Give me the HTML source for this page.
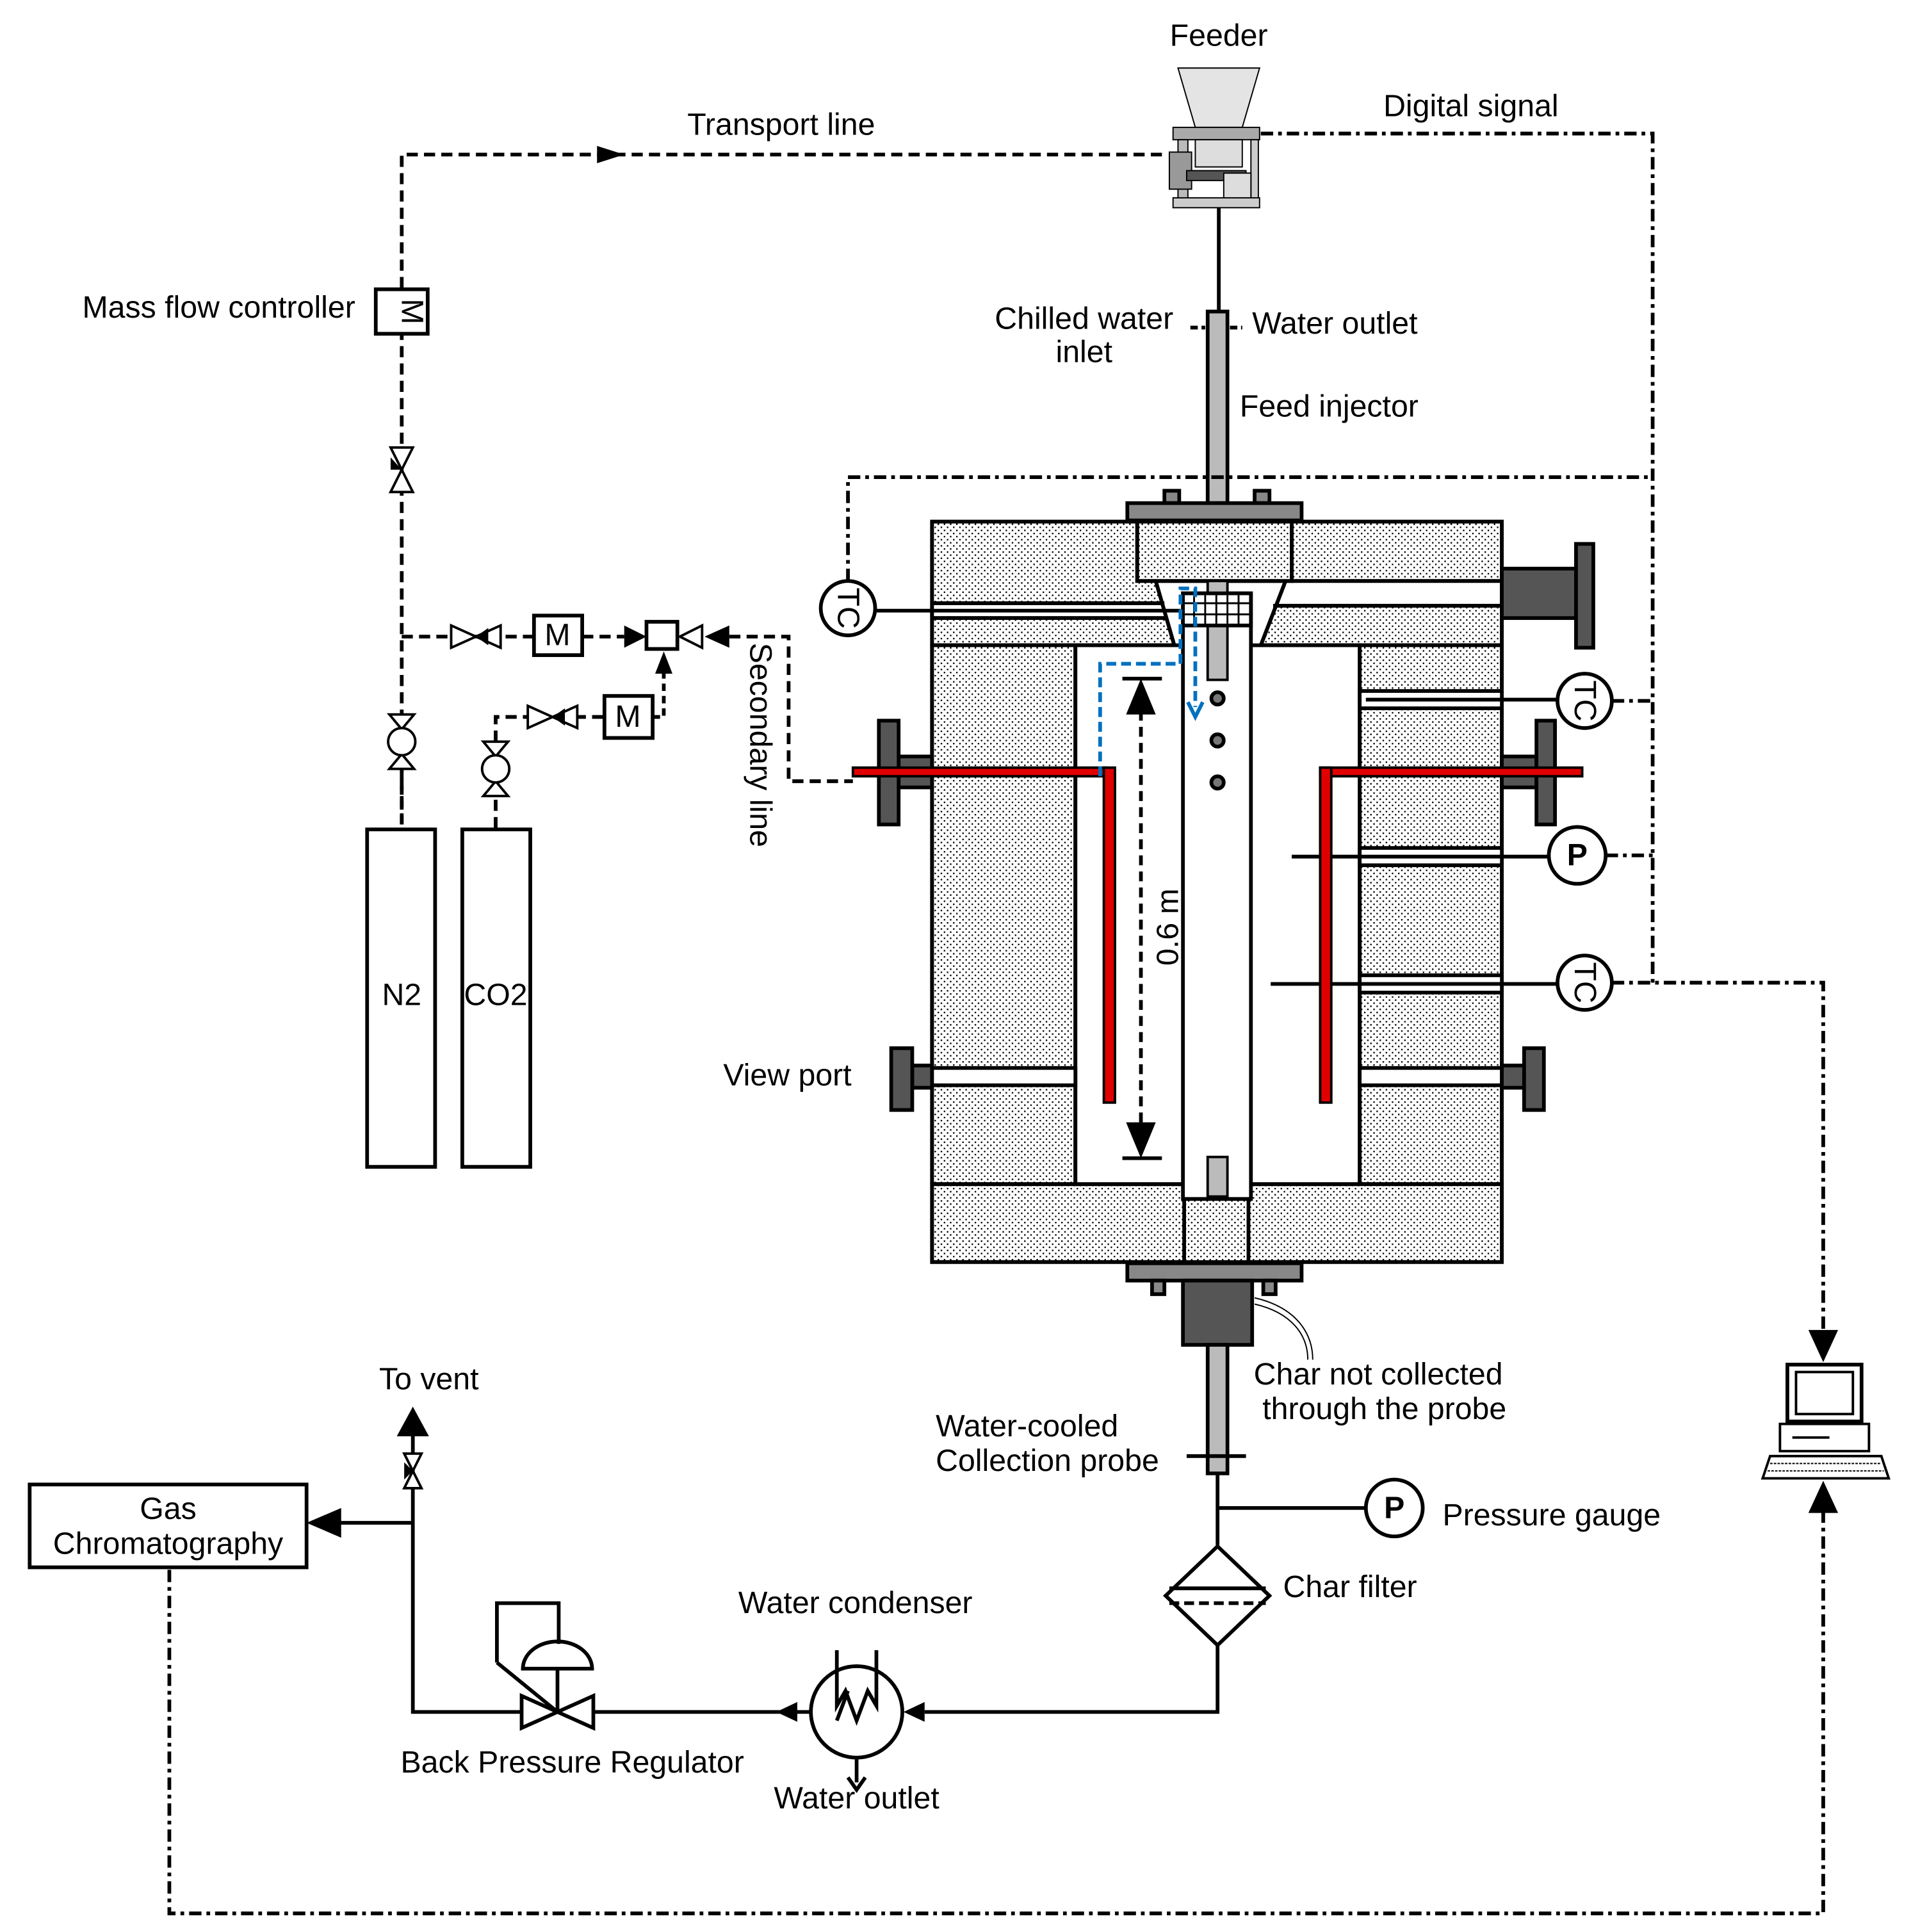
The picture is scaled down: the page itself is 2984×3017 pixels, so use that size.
<!DOCTYPE html>
<html><head><meta charset="utf-8"><style>
html,body{margin:0;padding:0;background:#fff;}
svg{display:block;}
text{font-family:"Liberation Sans",sans-serif;font-size:25px;fill:#000;}
</style></head><body>
<svg width="2984" height="3017" viewBox="0 0 1546 1563" xmlns="http://www.w3.org/2000/svg">
<defs>
<pattern id="dots" width="5" height="5" patternUnits="userSpaceOnUse">
<rect width="5" height="5" fill="#fff"/><rect x="1" y="1" width="1.2" height="1.2" fill="#000"/><rect x="3.5" y="3.5" width="1.2" height="1.2" fill="#000"/>
</pattern>
</defs>
<g fill="none" stroke="#000" stroke-width="3">

<!-- Feeder -->
<g stroke-width="1">
<polygon points="953,55 1019,55 1005,103 967,103" fill="#e4e4e4"/>
<rect x="949" y="103" width="70" height="10" fill="#aaa"/>
<rect x="967" y="113" width="38" height="22" fill="#ddd"/>
<rect x="953" y="113" width="8" height="50" fill="#bbb"/>
<rect x="946" y="123" width="18" height="30" fill="#999"/>
<rect x="1012" y="113" width="6" height="50" fill="#ccc"/>
<rect x="960" y="138" width="48" height="8" fill="#555"/>
<rect x="990" y="140" width="22" height="22" fill="#ddd"/>
<rect x="949" y="160" width="70" height="8" fill="#ccc"/>
</g>
<line x1="986" y1="168" x2="986" y2="252"/>
<rect x="977" y="252" width="16" height="155" fill="#bbb"/>
<line x1="963" y1="265" x2="975" y2="265" stroke-dasharray="6,3"/>
<line x1="995" y1="265" x2="1005" y2="265" stroke-dasharray="6,3"/>

<!-- transport line -->
<path d="M940,125 L325,125 L325,670" stroke-dasharray="9,5"/>
<path d="M483,118 L505,125 L483,132z" fill="#000" stroke="none"/>
<rect x="304" y="234" width="42" height="36" fill="#fff"/>
<path d="M316,362 L334,362 L325,380z M316,398 L334,398 L325,380z" fill="#fff" stroke-width="2"/>
<path d="M316,370 L325,380 L316,380z" fill="#000" stroke="none"/>
<path d="M325,515 L432,515" stroke-dasharray="9,5"/>
<path d="M365,506 L365,524 L385,515z M405,506 L405,524 L385,515z" fill="#fff" stroke-width="2"/>
<path d="M385,515 L395,508 L395,522z" fill="#000" stroke="none"/>
<rect x="432" y="498" width="39" height="32" fill="#fff"/>
<path d="M471,515 L505,515" stroke-dasharray="9,5"/>
<path d="M505,506 L523,515 L505,524z" fill="#000" stroke="none"/>
<rect x="523" y="503" width="25" height="22" fill="#fff"/>
<path d="M550,515 L568,506 L568,524z" fill="#fff" stroke-width="2"/>
<path d="M590,506 L570,515 L590,524z" fill="#000" stroke="none"/>
<path d="M590,515 L638,515 L638,632 L690,632" stroke-dasharray="9,5"/>
<path d="M401,670 L401,580 L489,580" stroke-dasharray="9,5"/>
<path d="M427,571 L427,589 L447,580z M467,571 L467,589 L447,580z" fill="#fff" stroke-width="2"/>
<path d="M447,580 L457,573 L457,587z" fill="#000" stroke="none"/>
<rect x="489" y="563" width="39" height="34" fill="#fff"/>
<path d="M528,580 L537,580 L537,545" stroke-dasharray="6,4"/>
<path d="M530,545 L537,527 L544,545z" fill="#000" stroke="none"/>
<g stroke-width="2">
<path d="M315,578 L335,578 L325,590z M315,622 L335,622 L325,610z" fill="#fff"/>
<circle cx="325" cy="600" r="11" fill="#fff"/>
<path d="M391,600 L411,600 L401,612z M391,644 L411,644 L401,632z" fill="#fff"/>
<circle cx="401" cy="622" r="11" fill="#fff"/>
</g>
<line x1="325" y1="624" x2="325" y2="670" stroke-dasharray="7,5"/>
<rect x="297" y="671" width="55" height="273" fill="#fff"/>
<rect x="374" y="671" width="55" height="273" fill="#fff"/>

<!-- Reactor -->
<rect x="754" y="422" width="461" height="100" fill="url(#dots)"/>
<rect x="754" y="522" width="116" height="436" fill="url(#dots)"/>
<rect x="1100" y="522" width="115" height="436" fill="url(#dots)"/>
<rect x="754" y="958" width="461" height="63" fill="url(#dots)"/>
<rect x="870" y="522" width="230" height="436" fill="#fff"/>
<rect x="754" y="488" width="190" height="12" fill="#fff"/>
<rect x="1028" y="470" width="187" height="20" fill="#fff"/>
<polygon points="935,470 1040,470 1020,522 950,522" fill="#fff"/>
<rect x="920" y="422" width="125" height="48" fill="url(#dots)"/>
<line x1="754" y1="522" x2="948" y2="522"/>
<line x1="1020" y1="522" x2="1215" y2="522"/>
<line x1="1045" y1="470" x2="1215" y2="470"/>
<line x1="1030" y1="490" x2="1215" y2="490"/>
<line x1="754" y1="488" x2="942" y2="488"/>
<line x1="754" y1="500" x2="944" y2="500"/>
<line x1="708" y1="494" x2="955" y2="494"/>
<line x1="935" y1="470" x2="950" y2="522"/>
<line x1="1040" y1="470" x2="1020" y2="522"/>
<line x1="870" y1="522" x2="870" y2="958"/>
<line x1="1100" y1="522" x2="1100" y2="958"/>
<line x1="754" y1="958" x2="1215" y2="958"/>
<rect x="754" y="422" width="461" height="599"/>
<rect x="920" y="422" width="125" height="48"/>
<rect x="1100" y="559" width="115" height="14" fill="#fff"/><line x1="1105" y1="566" x2="1260" y2="566"/>
<rect x="1100" y="686" width="115" height="14" fill="#fff"/><line x1="1045" y1="693" x2="1253" y2="693"/>
<rect x="1100" y="789" width="115" height="14" fill="#fff"/><line x1="1028" y1="796" x2="1260" y2="796"/>
<rect x="1100" y="864" width="115" height="14" fill="#fff"/>
<rect x="754" y="864" width="116" height="14" fill="#fff"/>
<rect x="957" y="480" width="55" height="490" fill="#fff"/>
<rect x="977" y="470" width="16" height="80" fill="#bbb" stroke-width="2"/>
<rect x="957" y="480" width="55" height="26" fill="#fff"/>
<g stroke-width="1.5">
<line x1="957" y1="488" x2="1012" y2="488"/><line x1="957" y1="497" x2="1012" y2="497"/>
<line x1="966" y1="480" x2="966" y2="506"/><line x1="975" y1="480" x2="975" y2="506"/><line x1="984" y1="480" x2="984" y2="506"/><line x1="993" y1="480" x2="993" y2="506"/><line x1="1002" y1="480" x2="1002" y2="506"/>
</g>
<circle cx="985" cy="565" r="5" fill="#777"/><circle cx="985" cy="599" r="5" fill="#777"/><circle cx="985" cy="633" r="5" fill="#777"/>
<rect x="977" y="936" width="16" height="32" fill="#bbb" stroke-width="2"/>
<rect x="958" y="970" width="52" height="51" fill="url(#dots)"/>
<rect x="942" y="397" width="12" height="10" fill="#888"/><rect x="1015" y="397" width="12" height="10" fill="#888"/>
<rect x="912" y="407" width="141" height="14" fill="#888"/>
<rect x="912" y="1022" width="141" height="14" fill="#888"/>
<rect x="932" y="1036" width="10" height="11" fill="#888"/><rect x="1022" y="1036" width="10" height="11" fill="#888"/>
<rect x="957" y="1036" width="56" height="52" fill="#555"/>
<rect x="977" y="1088" width="16" height="104" fill="#bbb"/>
<line x1="960" y1="1178" x2="1008" y2="1178"/>
<rect x="1215" y="460" width="60" height="40" fill="#555"/><rect x="1275" y="440" width="14" height="84" fill="#555"/>
<rect x="738" y="862" width="16" height="18" fill="#555"/><rect x="721" y="848" width="17" height="50" fill="#555"/>
<rect x="1215" y="862" width="18" height="18" fill="#555"/><rect x="1233" y="848" width="16" height="50" fill="#555"/>
<rect x="727" y="612" width="27" height="25" fill="#555"/><rect x="711" y="583" width="16" height="84" fill="#555"/>
<rect x="1215" y="612" width="28" height="25" fill="#555"/><rect x="1243" y="583" width="15" height="84" fill="#555"/>
<g fill="#e00000" stroke-width="2">
<rect x="690" y="621" width="205" height="7"/><rect x="893" y="621" width="9" height="271"/>
<rect x="1068" y="621" width="212" height="7"/><rect x="1068" y="621" width="9" height="271"/>
</g>
<line x1="908" y1="549" x2="940" y2="549"/><line x1="908" y1="937" x2="940" y2="937"/>
<line x1="923" y1="575" x2="923" y2="910" stroke-dasharray="8,5"/>
<path d="M911,578 L923,549 L935,578z M911,908 L923,937 L935,908z" fill="#000" stroke="none"/>
<path d="M890,628 L890,537 L955,537 L955,476 L967,476 L967,572" stroke="#0070c0" stroke-dasharray="8,4"/>
<path d="M961,568 L967,580 L973,568" stroke="#0070c0"/>

<g stroke-dasharray="10,4,3,4">
<path d="M1020,108 L1337,108 L1337,795"/>
<path d="M686,470 L686,386 L1337,386"/>
<path d="M1304,567 L1337,567"/>
<path d="M1299,692 L1337,692"/>
<path d="M1304,795 L1475,795 L1475,1078"/>
<path d="M1475,1222 L1475,1548 L137,1548 L137,1268"/>
</g>
<path d="M1463,1076 L1475,1102 L1487,1076z M1463,1224 L1475,1198 L1487,1224z" fill="#000" stroke="none"/>
<circle cx="686" cy="492" r="22" fill="#fff"/>
<circle cx="1282" cy="567" r="22" fill="#fff"/>
<circle cx="1276" cy="692" r="23" fill="#fff"/>
<circle cx="1282" cy="795" r="22" fill="#fff"/>
<rect x="1446" y="1104" width="60" height="46" fill="#fff"/>
<rect x="1453" y="1110" width="46" height="34" stroke-width="2"/>
<rect x="1440" y="1152" width="72" height="22" fill="#fff" stroke-width="2"/>
<line x1="1450" y1="1163" x2="1480" y2="1163" stroke-width="2"/>
<polygon points="1432,1178 1522,1178 1528,1196 1426,1196" fill="#fff" stroke-width="2"/>
<line x1="1432" y1="1184" x2="1522" y2="1184" stroke-width="1" stroke-dasharray="2,1"/>
<line x1="1430" y1="1190" x2="1524" y2="1190" stroke-width="1" stroke-dasharray="2,1"/>

<path d="M985,1192 L985,1250"/>
<line x1="985" y1="1220" x2="1105" y2="1220"/>
<circle cx="1128" cy="1220" r="23" fill="#fff"/>
<polygon points="985,1251 1027,1291 985,1331 943,1291" fill="#fff"/>
<line x1="946" y1="1285" x2="1024" y2="1285"/><line x1="946" y1="1297" x2="1024" y2="1297" stroke-dasharray="8,4"/>
<path d="M985,1331 L985,1385 L748,1385"/>
<path d="M748,1377 L731,1385 L748,1393z" fill="#000" stroke="none"/>
<circle cx="693" cy="1385" r="37" fill="#fff"/>
<path d="M677,1335 L677,1380 L684,1368 L693,1392 L702,1368 L709,1380 L709,1335"/>
<path d="M677,1392 L686,1368" />
<line x1="693" y1="1422" x2="693" y2="1442"/>
<path d="M686,1438 L693,1448 L700,1438" />
<path d="M656,1385 L480,1385"/>
<path d="M645,1377 L628,1385 L645,1393z" fill="#000" stroke="none"/>
<path d="M422,1372 L451,1385 L422,1398z M480,1372 L451,1385 L480,1398z" fill="#fff"/>
<line x1="451" y1="1385" x2="451" y2="1350"/>
<path d="M423,1350 A28,22 0 0 1 479,1350 Z" fill="#fff"/>
<path d="M402,1345 L402,1297 L452,1297 L452,1330"/>
<line x1="402" y1="1345" x2="451" y2="1385"/>
<path d="M422,1385 L334,1385 L334,1160"/>
<path d="M321,1162 L334,1138 L347,1162z" fill="#000" stroke="none"/>
<path d="M327,1176 L341,1176 L334,1190z M327,1204 L341,1204 L334,1190z" fill="#fff" stroke-width="2"/>
<path d="M334,1190 L327,1183 L327,1197z" fill="#000" stroke="none"/>
<line x1="334" y1="1232" x2="270" y2="1232"/>
<path d="M276,1220 L248,1232 L276,1244z" fill="#000" stroke="none"/>
<rect x="24" y="1201" width="224" height="67" fill="#fff"/>
<path d="M1015,1050 C1050,1058 1062,1080 1062,1100" stroke-width="1"/>
<path d="M1015,1055 C1045,1062 1058,1080 1058,1100" stroke-width="1"/>
</g>

<text x="986" y="37" text-anchor="middle">Feeder</text>
<text x="632" y="109" text-anchor="middle">Transport line</text>
<text x="1190" y="94" text-anchor="middle">Digital signal</text>
<text x="177" y="257" text-anchor="middle">Mass flow controller</text>
<text x="877" y="266" text-anchor="middle">Chilled water</text>
<text x="877" y="293" text-anchor="middle">inlet</text>
<text x="1013" y="270">Water outlet</text>
<text x="1003" y="337">Feed injector</text>
<text x="325" y="252" text-anchor="middle" transform="rotate(90 325 252)" font-size="21">M</text>
<text x="451" y="522" text-anchor="middle" font-size="21">M</text>
<text x="508" y="588" text-anchor="middle" font-size="21">M</text>
<text x="607" y="520" transform="rotate(90 607 520)" font-size="24">Secondary line</text>
<text x="325" y="813" text-anchor="middle" font-size="20">N2</text>
<text x="401" y="813" text-anchor="middle" font-size="20">CO2</text>
<text x="678" y="492" transform="rotate(90 678 492)" text-anchor="middle" font-size="23">TC</text>
<text x="1274" y="567" transform="rotate(90 1274 567)" text-anchor="middle" font-size="23">TC</text>
<text x="1274" y="795" transform="rotate(90 1274 795)" text-anchor="middle" font-size="23">TC</text>
<text x="1276" y="700" text-anchor="middle" font-weight="bold" font-size="22">P</text>
<text x="1128" y="1228" text-anchor="middle" font-weight="bold" font-size="22">P</text>
<text x="953" y="750" transform="rotate(-90 953 750)" text-anchor="middle" font-size="24">0.6 m</text>
<text x="637" y="878" text-anchor="middle">View port</text>
<text x="1115" y="1120" text-anchor="middle">Char not collected</text>
<text x="1120" y="1148" text-anchor="middle">through the probe</text>
<text x="757" y="1162">Water-cooled</text>
<text x="757" y="1190">Collection probe</text>
<text x="1167" y="1234">Pressure gauge</text>
<text x="1038" y="1292">Char filter</text>
<text x="692" y="1305" text-anchor="middle">Water condenser</text>
<text x="693" y="1463" text-anchor="middle">Water outlet</text>
<text x="463" y="1434" text-anchor="middle">Back Pressure Regulator</text>
<text x="347" y="1124" text-anchor="middle">To vent</text>
<text x="136" y="1229" text-anchor="middle">Gas</text>
<text x="136" y="1257" text-anchor="middle">Chromatography</text>
</svg>
</body></html>
